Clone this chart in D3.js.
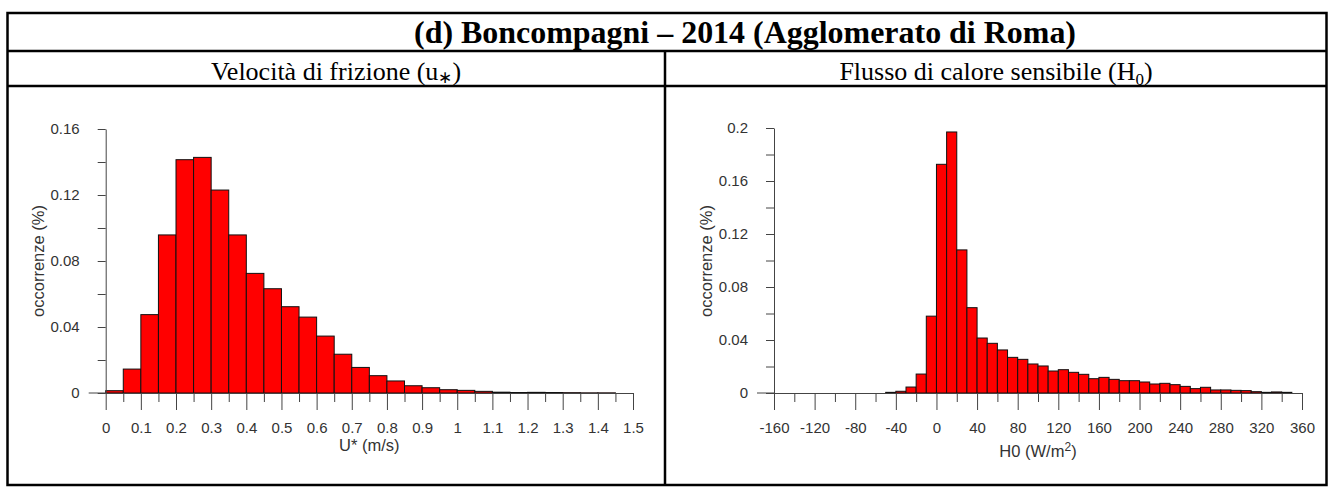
<!DOCTYPE html>
<html>
<head>
<meta charset="utf-8">
<script src="https://cdn.jsdelivr.net/npm/d3@7"></script>
<style>
  body { margin: 0; background: #fff; }
  .tick text { font-family: "Liberation Sans", Arial, sans-serif; }
</style>
</head>
<body>
<svg id="chart"></svg>
<script>
let width = 1332;
let height = 488;

// u* histogram (bin lower edges, width 0.05)
const uBins = [0, 0.05, 0.1, 0.15, 0.2, 0.25, 0.3, 0.35, 0.4, 0.45, 0.5, 0.55, 0.6, 0.65, 0.7,
  0.75, 0.8, 0.85, 0.9, 0.95, 1.0, 1.05, 1.1, 1.15, 1.2, 1.25, 1.3, 1.35, 1.4, 1.45];
const uValues = [0.0014, 0.0145, 0.0475, 0.0958, 0.1414, 0.1428, 0.123, 0.0958, 0.0725, 0.0632,
  0.0523, 0.046, 0.0345, 0.0235, 0.0155, 0.0105, 0.0073, 0.0044, 0.0032, 0.002,
  0.0016, 0.001, 0.0005, 0.0003, 0.0004, 0.0003, 0.0002, 0.0001, 0.0001, 0];
const uTicks = [0, 0.1, 0.2, 0.3, 0.4, 0.5, 0.6, 0.7, 0.8, 0.9, 1, 1.1, 1.2, 1.3, 1.4, 1.5];
const uYTicks = [0, 0.04, 0.08, 0.12, 0.16];

// H0 histogram (bin lower edges, width 10)
const h0Bins = [-50, -40, -30, -20, -10, 0, 10, 20, 30, 40, 50, 60, 70, 80, 90, 100, 110, 120,
  130, 140, 150, 160, 170, 180, 190, 200, 210, 220, 230, 240, 250, 260, 270, 280, 290, 300,
  310, 320, 330, 340];
const h0Values = [0.0005, 0.0013, 0.0045, 0.0143, 0.058, 0.1726, 0.197, 0.108, 0.0644, 0.0415,
  0.0375, 0.0325, 0.0269, 0.0254, 0.0219, 0.0204, 0.0166, 0.0176, 0.0156, 0.0141,
  0.0108, 0.0118, 0.0103, 0.0093, 0.0093, 0.0083, 0.0068, 0.0073, 0.0063, 0.005,
  0.0033, 0.0043, 0.0023, 0.0023, 0.002, 0.0018, 0.001, 0.0005, 0.0008, 0.0005];
const h0Ticks = [-160, -120, -80, -40, 0, 40, 80, 120, 160, 200, 240, 280, 320, 360];
const h0YTicks = [0, 0.04, 0.08, 0.12, 0.16, 0.2];

let svg = d3.select('#chart')
  .attr('width', width)
  .attr('height', height);

// table frame
let frame = svg.append('g')
  .attr('stroke', '#000')
  .attr('stroke-width', 2.5)
  .attr('fill', 'none');
frame.append('rect').attr('x', 7.5).attr('y', 13).attr('width', 1319).attr('height', 472);
frame.append('line').attr('x1', 7.5).attr('x2', 1326.5).attr('y1', 51).attr('y2', 51);
frame.append('line').attr('x1', 7.5).attr('x2', 1326.5).attr('y1', 86).attr('y2', 86);
frame.append('line').attr('x1', 665).attr('x2', 665).attr('y1', 51).attr('y2', 485);

svg.append('text')
  .attr('x', 414)
  .attr('y', 43)
  .attr('font-family', '"Liberation Serif", "Times New Roman", serif')
  .attr('font-weight', 'bold')
  .attr('font-size', 32)
  .attr('textLength', 662)
  .attr('lengthAdjust', 'spacingAndGlyphs')
  .text('(d) Boncompagni – 2014 (Agglomerato di Roma)');

let sub1 = svg.append('text')
  .attr('x', 336)
  .attr('y', 80)
  .attr('text-anchor', 'middle')
  .attr('font-family', '"Liberation Serif", "Times New Roman", serif')
  .attr('font-size', 26);
sub1.append('tspan').text('Velocità di frizione (u');
sub1.append('tspan').attr('font-size', 17).attr('dy', 3).text('∗');
sub1.append('tspan').attr('dy', -3).text(')');

let sub2 = svg.append('text')
  .attr('x', 996)
  .attr('y', 80)
  .attr('text-anchor', 'middle')
  .attr('font-family', '"Liberation Serif", "Times New Roman", serif')
  .attr('font-size', 26);
sub2.append('tspan').text('Flusso di calore sensibile (H');
sub2.append('tspan').attr('font-size', 17).attr('dy', 5).text('0');
sub2.append('tspan').attr('dy', -5).text(')');

function drawHist(opt) {
  let x = d3.scaleLinear().domain(opt.xDomain).range(opt.xRange);
  let y = d3.scaleLinear().domain(opt.yDomain).range([393, opt.yTop]);
  let g = svg.append('g');
  let fmt = d => String(d);

  // bars
  g.append('g')
    .selectAll('rect')
    .data(opt.bins.map((b, i) => ({ x0: b, v: opt.values[i] })))
    .join('rect')
      .attr('x', d => x(d.x0))
      .attr('y', d => y(d.v))
      .attr('width', d => x(d.x0 + opt.binWidth) - x(d.x0))
      .attr('height', d => y(0) - y(d.v))
      .attr('fill', '#ff0000')
      .attr('stroke', '#111')
      .attr('stroke-width', 1);

  // minor ticks
  g.append('g')
    .attr('transform', 'translate(0,393)')
    .call(d3.axisBottom(x).tickValues(opt.xMinor).tickSize(9).tickFormat(''))
    .call(a => a.select('.domain').remove());
  g.append('g')
    .attr('transform', `translate(${opt.xRange[0]},0)`)
    .call(d3.axisLeft(y).tickValues(opt.yMinor).tickSize(8).tickFormat(''))
    .call(a => a.select('.domain').remove());

  // major axes
  g.append('g')
    .attr('transform', 'translate(0,393)')
    .call(d3.axisBottom(x).tickValues(opt.xTicks).tickSize(17).tickSizeOuter(0).tickPadding(12)
      .tickFormat(fmt));
  g.append('g')
    .attr('transform', `translate(${opt.xRange[0]},0)`)
    .call(d3.axisLeft(y).tickValues(opt.yTicks).tickSize(8).tickSizeOuter(0).tickPadding(18)
      .tickFormat(fmt));

  g.selectAll('.domain, .tick line').attr('stroke', '#444');
  g.selectAll('.tick text').attr('font-size', 15).attr('fill', '#333');

  // baseline stub left of the y axis
  g.append('line')
    .attr('x1', opt.xRange[0] - 17).attr('x2', opt.xRange[0])
    .attr('y1', 393).attr('y2', 393)
    .attr('stroke', '#444');

  g.append('text')
    .attr('transform', `translate(${opt.yLabelX},261) rotate(-90)`)
    .attr('text-anchor', 'middle')
    .attr('font-family', '"Liberation Sans", Arial, sans-serif')
    .attr('font-size', 16.5)
    .attr('fill', '#333')
    .text('occorrenze (%)');

  let xlab = g.append('text')
    .attr('x', (opt.xRange[0] + opt.xRange[1]) / 2)
    .attr('y', opt.xLabelY)
    .attr('text-anchor', 'middle')
    .attr('font-family', '"Liberation Sans", Arial, sans-serif')
    .attr('font-size', 16.5)
    .attr('fill', '#333');
  opt.xLabel(xlab);
}

drawHist({
  bins: uBins, values: uValues, binWidth: 0.05,
  xDomain: [0, 1.5], xRange: [105.7, 633],
  yDomain: [0, 0.16], yTop: 129,
  xTicks: uTicks, xMinor: d3.range(0.05, 1.5, 0.1),
  yTicks: uYTicks, yMinor: d3.range(0.02, 0.16, 0.04),
  yLabelX: 44, xLabelY: 451,
  xLabel: t => t.text('U* (m/s)')
});

drawHist({
  bins: h0Bins, values: h0Values, binWidth: 10,
  xDomain: [-160, 360], xRange: [774, 1302],
  yDomain: [0, 0.2], yTop: 128,
  xTicks: h0Ticks, xMinor: d3.range(-140, 360, 40),
  yTicks: h0YTicks, yMinor: d3.range(0.02, 0.2, 0.04),
  yLabelX: 711.5, xLabelY: 457,
  xLabel: t => {
    t.append('tspan').text('H0 (W/m');
    t.append('tspan').attr('font-size', 12).attr('dy', -6).text('2');
    t.append('tspan').attr('dy', 6).text(')');
  }
});
</script>
</body>
</html>
